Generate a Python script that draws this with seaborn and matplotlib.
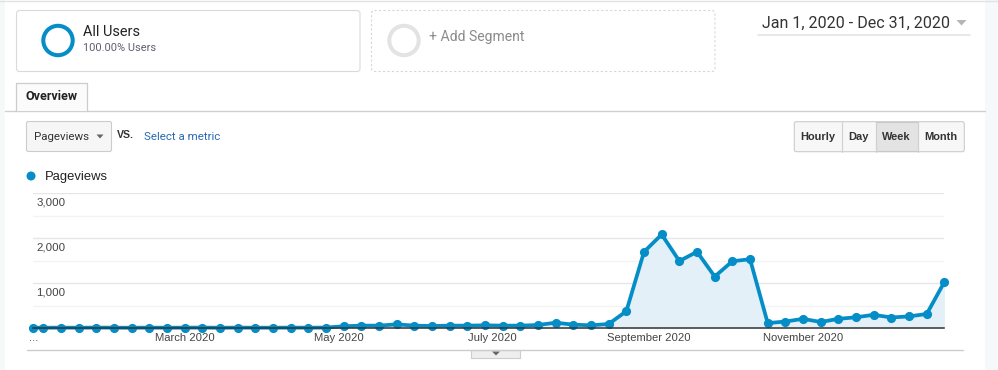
import matplotlib
matplotlib.use('Agg')
import matplotlib.pyplot as plt
import matplotlib.dates as mdates
from matplotlib.patches import Rectangle, FancyBboxPatch, Circle, Polygon
import seaborn as sns
import pandas as pd

# weekly points: partial first week (Jan 1) then every Sunday to Dec 27
week_dates = ['2020-01-01'] + list(pd.date_range('2020-01-05', '2020-12-27', freq='7D').strftime('%Y-%m-%d'))
pageviews = [14, 12, 15, 13, 16, 14, 12, 15, 13, 14, 16, 12, 15, 14, 13, 15, 14, 16,
             45, 59, 59, 88, 59, 51, 59, 59, 66, 59, 59, 73, 125, 81, 66, 96, 380,
             1700, 2085, 1495, 1700, 1150, 1490, 1535,
             115, 150, 210, 140, 210, 245, 300, 240, 265, 318, 1030]

month_ticks = ['2020-01-01', '2020-03-01', '2020-05-01', '2020-07-01', '2020-09-01', '2020-11-01']
month_labels = ['...', 'March 2020', 'May 2020', 'July 2020', 'September 2020', 'November 2020']
y_labels = [1000, 2000, 3000]

buttons = ['Hourly', 'Day', 'Week', 'Month']
button_edges = [794.3, 841.7, 875.7, 917.7, 964.3]

df = pd.DataFrame({'week': pd.to_datetime(week_dates), 'pageviews': pageviews})

BLUE = '#058dc7'
FILL = '#e4f0f7'

sns.set_style('white')
plt.rcParams['font.family'] = ['Liberation Sans', 'DejaVu Sans']


def fs(px):
    return px * 0.72


fig = plt.figure(figsize=(9.98, 3.70), dpi=100)
fig.patch.set_facecolor('white')

# UI layer in pixel coordinates
ui = fig.add_axes([0, 0, 1, 1])
ui.set_xlim(0, 998)
ui.set_ylim(370, 0)
ui.axis('off')

ui.add_patch(Rectangle((0, 0), 5.5, 370, color='#f7f8fa', lw=0))
ui.add_patch(Rectangle((985, 0), 13, 370, color='#f7f8fa', lw=0))
ui.plot([0, 998], [0.5, 0.5], color='#e2e2e2', lw=1)

# segment boxes
ui.add_patch(FancyBboxPatch((16.5, 10.5), 343.5, 61, boxstyle='round,pad=0,rounding_size=3',
                            fc='white', ec='#dadada', lw=0.8))
ui.add_patch(Circle((58, 40.5), 14.7, fill=False, ec=BLUE, lw=2.9))
ui.text(83, 32.5, 'All Users', fontsize=fs(14.5), color='#222222', va='center', family='Roboto')
ui.text(83, 48, '100.00% Users', fontsize=fs(11), color='#5f5f70', va='center', family='Roboto')

ui.add_patch(FancyBboxPatch((371.5, 10.5), 343.5, 61, boxstyle='round,pad=0,rounding_size=3',
                            fc='white', ec='#d6d6d6', lw=0.8, linestyle=(0, (2, 2))))
ui.add_patch(Circle((404, 40.5), 14.7, fill=False, ec='#e3e3e3', lw=2.9))
ui.text(429, 37.5, '+ Add Segment', fontsize=fs(14), color='#8a8a8a', va='center', family='Roboto')

# date range
ui.text(762, 23, 'Jan 1, 2020 - Dec 31, 2020', fontsize=fs(16), color='#333333', va='center',
        family='Roboto')
ui.add_patch(Polygon([(956.5, 20), (966.5, 20), (961.5, 25.5)], color='#b5b5b5', lw=0))
ui.plot([758, 970], [35, 35], color='#e6e6e6', lw=1.3)

# overview tab
ui.plot([5.5, 985], [110.5, 110.5], color='#cfcfcf', lw=1)
ui.add_patch(Rectangle((16.5, 82.5), 71, 28.3, fc='#fbfbfb', ec='none', zorder=3))
ui.plot([16.5, 16.5, 87.5, 87.5], [110.5, 82.5, 82.5, 110.5], color='#cccccc', lw=0.9, zorder=4)
ui.text(52, 97, 'Overview', fontsize=fs(12.5), color='#222222', weight='bold', ha='center',
        va='center', family='Roboto', zorder=5)

# metric dropdown
ui.add_patch(FancyBboxPatch((26.5, 121.5), 85, 30, boxstyle='round,pad=0,rounding_size=2',
                            fc='#f6f6f6', ec='#cccccc', lw=0.8))
ui.text(34.5, 136.5, 'Pageviews', fontsize=fs(11.5), color='#333333', va='center', family='Roboto')
ui.add_patch(Polygon([(96.5, 134.5), (103.5, 134.5), (100, 138.5)], color='#666666', lw=0))
ui.text(116.5, 135.5, 'VS.', fontsize=fs(10.5), color='#333333', va='center', weight='bold')
ui.text(144, 136.5, 'Select a metric', fontsize=fs(11.5), color='#2a6ab3', va='center', family='Roboto')

# time granularity buttons
ui.add_patch(FancyBboxPatch((button_edges[0], 121.7), button_edges[-1] - button_edges[0], 30,
                            boxstyle='round,pad=0,rounding_size=2', fc='#f7f7f7', ec='#cccccc', lw=0.8))
ui.add_patch(Rectangle((button_edges[2], 122), button_edges[3] - button_edges[2], 29.4,
                       fc='#e3e3e3', ec='#c8c8c8', lw=0.8))
for xe in button_edges[1:-1]:
    ui.plot([xe, xe], [122, 151.5], color='#d0d0d0', lw=0.8)
for i, name in enumerate(buttons):
    ui.text((button_edges[i] + button_edges[i + 1]) / 2, 136.5, name, fontsize=fs(11), color='#333333',
            weight='bold', ha='center', va='center')

# legend
ui.add_patch(Circle((31, 176), 4.5, color=BLUE, lw=0))
ui.text(44.5, 177, 'Pageviews', fontsize=fs(13), color='#222222', va='center')

# bottom border and slider tab
ui.plot([27, 963], [349.5, 349.5], color='#cccccc', lw=1)
ui.add_patch(Rectangle((471.5, 349.5), 49, 8, fc='#eeeeee', ec='#cccccc', lw=0.8))
ui.add_patch(Polygon([(492, 351.5), (500, 351.5), (496, 355.5)], color='#666666', lw=0))

# chart area
left, right = 33.2 / 998, 944.4 / 998
bottom, top = (370 - 328.3) / 370, (370 - 193.3) / 370
ax = fig.add_axes([left, bottom, right - left, top - bottom], zorder=5)
ax.patch.set_alpha(0)

ax.fill_between(df['week'], 0, df['pageviews'], color=FILL, lw=0, zorder=1)
sns.lineplot(data=df, x='week', y='pageviews', ax=ax, color=BLUE, lw=2.7, marker='o',
             markersize=6.6, markeredgewidth=0, clip_on=False, zorder=3)

ax.set_xlim(mdates.date2num(pd.Timestamp('2020-01-01')), mdates.date2num(pd.Timestamp('2020-12-27')))
ax.set_ylim(0, 3000)

ax.set_yticks([1000, 2000, 3000])
ax.set_yticks([500, 1500, 2500], minor=True)
ax.yaxis.grid(True, which='major', color='#e6e6e6', lw=1)
ax.yaxis.grid(True, which='minor', color='#f3f3f3', lw=1)
ax.set_yticklabels([])
ax.tick_params(axis='y', which='both', length=0)
for v in y_labels:
    ax.annotate(f'{v:,}', xy=(0, v), xycoords=('axes fraction', 'data'), xytext=(3, -9.5),
                textcoords='offset pixels', fontsize=fs(11.5), color='#444444', va='center', ha='left')

ax.set_xticks(pd.to_datetime(month_ticks))
ax.set_xticklabels(month_labels, fontsize=fs(11.3), color='#444444')
ax.tick_params(axis='x', length=0, pad=3.4)
ax.set_xlabel('')
ax.set_ylabel('')

for side in ['top', 'left', 'right']:
    ax.spines[side].set_visible(False)
ax.spines['bottom'].set_color('#333333')
ax.spines['bottom'].set_linewidth(1.1)
ax.spines['bottom'].set_zorder(4)

fig.savefig('out.png', dpi=100)
